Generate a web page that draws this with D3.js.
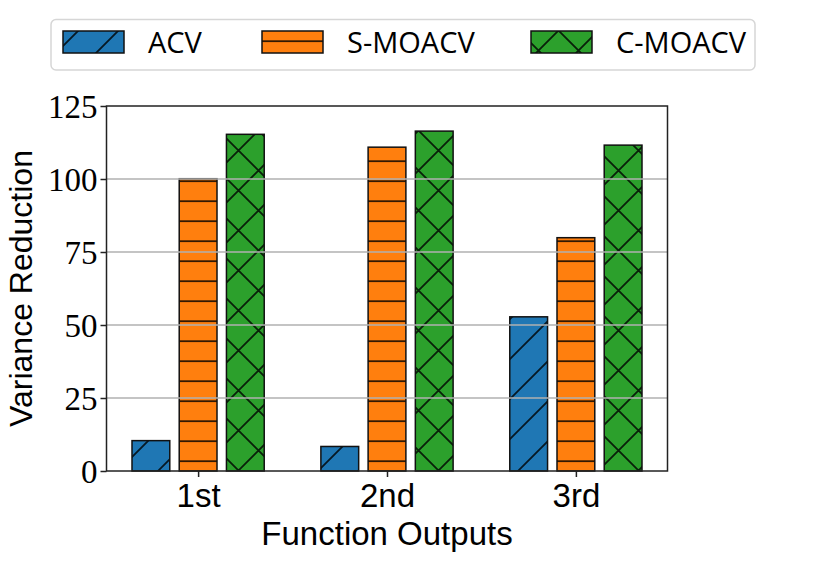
<!DOCTYPE html>
<html>
<head>
<meta charset="utf-8">
<script src="https://cdn.jsdelivr.net/npm/d3@7"></script>
<style>
    body { margin: 0; background: #fff; }
</style>
</head>
<body>
<script>
// chart values
var categories = ["1st", "2nd", "3rd"];
var seriesNames = ["ACV", "S-MOACV", "C-MOACV"];
var acv = [10.4, 8.4, 52.8];
var sMoacv = [100.1, 110.9, 79.9];
var cMoacv = [115.3, 116.4, 111.6];
var yTicks = [0, 25, 50, 75, 100, 125];

var series = [acv, sMoacv, cMoacv];
var colors = ["#1f77b4", "#ff7f0e", "#2ca02c"];
var hatches = ["hatch_diag", "hatch_horiz", "hatch_cross"];

var width = 830, height = 586;
var plot = {left: 106.5, right: 667.5, top: 106, bottom: 471};
var barWidth = 0.2;
var offsets = [-0.25, 0, 0.25];

var svg = d3.select("body").append("svg")
    .attr("width", width)
    .attr("height", height);

var x = d3.scaleLinear()
    .domain([-0.485, 2.485])
    .range([plot.left, plot.right]);

var y = d3.scaleLinear()
    .domain([0, 125])
    .range([plot.bottom, plot.top]);

// hatch patterns, tiled in page coordinates
var defs = svg.append("defs");
var hatchStyle = function (sel) {
    sel.style("stroke", "#000")
        .style("stroke-opacity", 0.8)
        .style("stroke-width", 1.8)
        .style("fill", "none");
};

var pDiag = defs.append("pattern")
    .attr("id", "hatch_diag")
    .attr("patternUnits", "userSpaceOnUse")
    .attr("width", 40).attr("height", 40);
pDiag.append("path")
    .attr("d", "M-1,30L30,-1M28,41L41,28")
    .call(hatchStyle);

var pHoriz = defs.append("pattern")
    .attr("id", "hatch_horiz")
    .attr("patternUnits", "userSpaceOnUse")
    .attr("width", 20).attr("height", 20);
pHoriz.append("path")
    .attr("d", "M-1,1.2L21,1.2")
    .call(hatchStyle);

var pCross = defs.append("pattern")
    .attr("id", "hatch_cross")
    .attr("patternUnits", "userSpaceOnUse")
    .attr("width", 40).attr("height", 40);
pCross.append("path")
    .attr("d", "M-1,30L30,-1M28,41L41,28M-1,31L9,41M7,-1L41,33")
    .call(hatchStyle);

// bars
series.forEach(function (values, s) {
    var grp = svg.append("g").attr("class", "series_" + s);
    grp.selectAll("rect.fill")
        .data(values)
        .enter().append("rect")
        .attr("x", function (d, i) { return x(i + offsets[s] - barWidth / 2); })
        .attr("y", function (d) { return y(d); })
        .attr("width", x(barWidth) - x(0))
        .attr("height", function (d) { return y(0) - y(d); })
        .style("fill", colors[s]);
    grp.selectAll("rect.hatch")
        .data(values)
        .enter().append("rect")
        .attr("x", function (d, i) { return x(i + offsets[s] - barWidth / 2); })
        .attr("y", function (d) { return y(d); })
        .attr("width", x(barWidth) - x(0))
        .attr("height", function (d) { return y(0) - y(d); })
        .style("fill", "url(#" + hatches[s] + ")")
        .style("stroke", "#111")
        .style("stroke-width", 1.5);
});

// grid over the bars
svg.append("g")
    .selectAll("line")
    .data(yTicks.slice(1, -1))
    .enter().append("line")
    .attr("x1", plot.left)
    .attr("x2", plot.right)
    .attr("y1", function (d) { return y(d); })
    .attr("y2", function (d) { return y(d); })
    .style("stroke", "#b0b0b0")
    .style("stroke-width", 1.5);

// frame
svg.append("rect")
    .attr("x", plot.left)
    .attr("y", plot.top)
    .attr("width", plot.right - plot.left)
    .attr("height", plot.bottom - plot.top)
    .style("fill", "none")
    .style("stroke", "#222")
    .style("stroke-width", 1.5);

// axes
var yAxis = d3.axisLeft(y)
    .tickValues(yTicks)
    .tickSize(6)
    .tickPadding(3);

var gy = svg.append("g")
    .attr("transform", "translate(" + plot.left + ",0)")
    .call(yAxis);
gy.select(".domain").remove();
gy.selectAll(".tick line").style("stroke", "#222").style("stroke-width", 1.5);
gy.selectAll(".tick text")
    .style("font-family", "'Liberation Serif', serif")
    .style("font-size", "33px")
    .attr("dy", "0.34em")
    .style("fill", "#000");

var xAxis = d3.axisBottom(x)
    .tickValues([0, 1, 2])
    .tickFormat(function (d) { return categories[d]; })
    .tickSize(6)
    .tickPadding(7);

var gx = svg.append("g")
    .attr("transform", "translate(0," + plot.bottom + ")")
    .call(xAxis);
gx.select(".domain").remove();
gx.selectAll(".tick line").style("stroke", "#222").style("stroke-width", 1.5);
gx.selectAll(".tick text")
    .style("font-family", "'Liberation Sans', sans-serif")
    .style("font-size", "33px")
    .style("fill", "#000");

// axis labels
svg.append("text")
    .attr("x", (plot.left + plot.right) / 2)
    .attr("y", 545)
    .attr("text-anchor", "middle")
    .style("font-family", "'Liberation Sans', sans-serif")
    .style("font-size", "33px")
    .text("Function Outputs");

svg.append("text")
    .attr("transform", "translate(32," + (plot.top + plot.bottom) / 2 + ") rotate(-90)")
    .attr("text-anchor", "middle")
    .style("font-family", "'Liberation Sans', sans-serif")
    .style("font-size", "32px")
    .text("Variance Reduction");

// legend
var legendX = [63, 262, 531];
var legend = svg.append("g").attr("class", "legend");
legend.append("rect")
    .attr("x", 51)
    .attr("y", 19.5)
    .attr("width", 704)
    .attr("height", 50.5)
    .attr("rx", 5)
    .style("fill", "#fff")
    .style("stroke", "#d6d6d6")
    .style("stroke-width", 1.5);

seriesNames.forEach(function (name, s) {
    legend.append("rect")
        .attr("x", legendX[s])
        .attr("y", 31)
        .attr("width", 61)
        .attr("height", 22)
        .style("fill", colors[s]);
    legend.append("rect")
        .attr("x", legendX[s])
        .attr("y", 31)
        .attr("width", 61)
        .attr("height", 22)
        .style("fill", "url(#" + hatches[s] + ")")
        .style("stroke", "#111")
        .style("stroke-width", 1.5);
    legend.append("text")
        .attr("x", legendX[s] + 85)
        .attr("y", 53)
        .style("font-family", "'Open Sans', sans-serif")
        .style("font-size", "29px")
        .text(name);
});
</script>
</body>
</html>
